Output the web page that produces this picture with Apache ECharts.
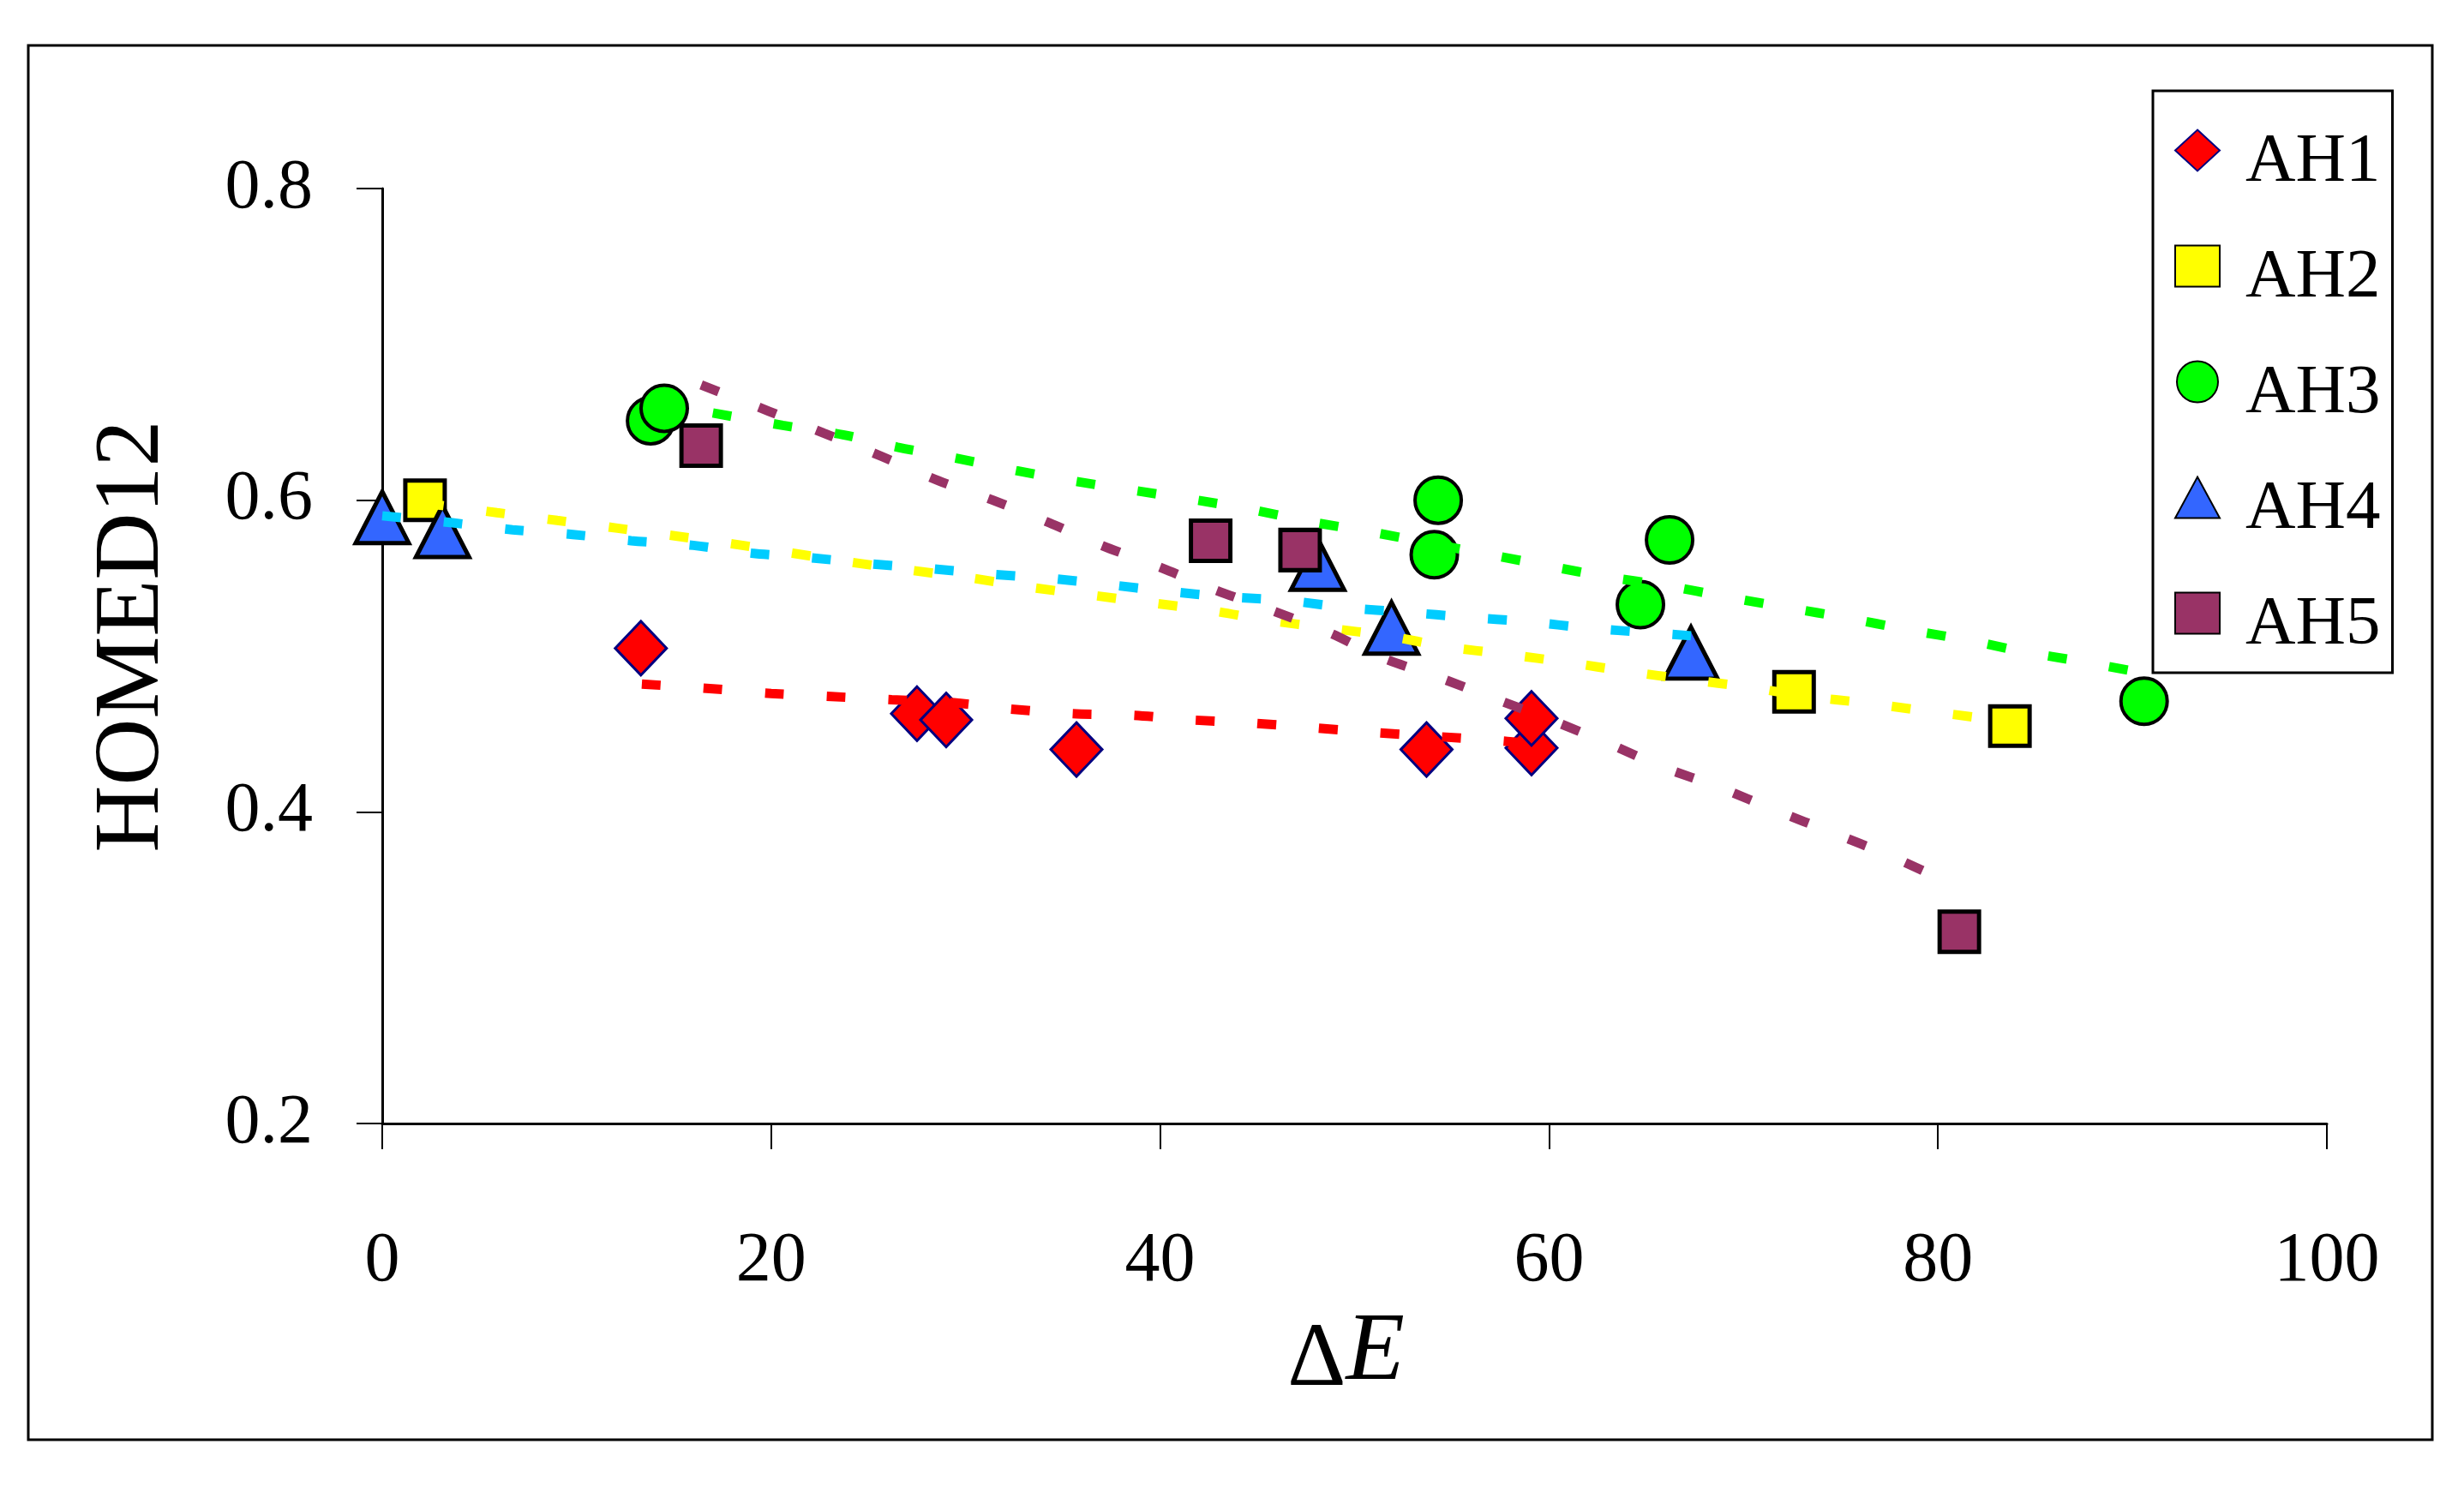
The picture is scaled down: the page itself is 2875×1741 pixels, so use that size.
<!DOCTYPE html>
<html>
<head>
<meta charset="utf-8">
<script src="https://cdn.jsdelivr.net/npm/echarts@6/dist/echarts.min.js"></script>
<style>
  html, body { margin: 0; padding: 0; background: #fff; }
  #chart { width: 2875px; height: 1741px; }
</style>
</head>
<body>
<div id="chart"></div>
<script>
// measured points
const ah1X = [13.3, 27.5, 29.0, 35.7, 53.7, 59.1, 59.1];
const ah1Y = [0.505, 0.463, 0.459, 0.440, 0.440, 0.441, 0.460];
const ah2X = [2.2, 72.6, 83.7];
const ah2Y = [0.600, 0.477, 0.455];
const ah3X = [13.8, 14.5, 54.3, 54.1, 66.2, 64.7, 90.6];
const ah3Y = [0.651, 0.659, 0.600, 0.565, 0.5745, 0.533, 0.471];
const ah4X = [0.0, 3.1, 48.1, 51.9, 67.3];
const ah4Y = [0.589, 0.580, 0.559, 0.518, 0.502];
const ah5X = [16.4, 42.6, 47.2, 81.1];
const ah5Y = [0.635, 0.574, 0.568, 0.323];

// trend lines
const trend1X = [13.35, 17.0, 20.0, 23.1, 26.2, 29.4, 32.3, 35.5, 38.6, 41.6, 44.7, 47.8, 50.9, 54.0, 57.0, 59.0];
const trend1Y = [0.482, 0.479, 0.476, 0.474, 0.472, 0.470, 0.466, 0.463, 0.462, 0.459, 0.457, 0.454, 0.451, 0.4485, 0.446, 0.444];
const trend2X = [2.2, 5.9, 9.0, 12.1, 15.1, 18.0, 21.1, 24.2, 27.2, 30.3, 33.4, 36.5, 39.6, 42.7, 45.5, 48.6, 51.7, 54.7, 57.9, 60.9, 64.1, 67.1, 70.3, 73.3, 76.2, 79.2, 82.3, 83.7];
const trend2Y = [0.598, 0.592, 0.587, 0.582, 0.577, 0.572, 0.566, 0.560, 0.555, 0.550, 0.544, 0.539, 0.534, 0.529, 0.523, 0.518, 0.513, 0.506, 0.501, 0.496, 0.490, 0.485, 0.480, 0.474, 0.470, 0.465, 0.460, 0.457];
const trend3X = [17.0, 20.6, 23.7, 26.5, 29.5, 32.6, 35.7, 38.8, 41.9, 44.7, 47.8, 50.9, 54.0, 57.0, 60.1, 62.9, 66.1, 69.1, 72.3, 75.3, 78.4, 81.6, 84.3, 87.4, 90.6];
const trend3Y = [0.656, 0.648, 0.642, 0.634, 0.627, 0.619, 0.612, 0.606, 0.600, 0.594, 0.586, 0.5795, 0.572, 0.565, 0.5575, 0.551, 0.545, 0.538, 0.531, 0.5245, 0.517, 0.510, 0.503, 0.4964, 0.489];
const trend4X = [0.0, 3.6, 6.7, 9.8, 12.8, 16.0, 19.0, 22.1, 25.2, 28.3, 31.3, 34.2, 37.2, 40.4, 43.4, 46.6, 49.6, 52.7, 55.7, 58.9, 62.0, 65.1, 67.3];
const trend4Y = [0.590, 0.5855, 0.581, 0.578, 0.574, 0.571, 0.566, 0.563, 0.559, 0.556, 0.5525, 0.550, 0.546, 0.5415, 0.538, 0.5355, 0.531, 0.528, 0.525, 0.522, 0.518, 0.515, 0.513];
const trend5X = [16.4, 19.9, 22.7, 25.7, 28.6, 31.4, 34.3, 37.0, 40.1, 42.8, 45.8, 48.7, 51.4, 54.5, 57.4, 60.1, 63.1, 65.8, 68.9, 71.7, 74.5, 77.5, 80.2, 81.0];
const trend5Y = [0.674, 0.657, 0.643, 0.628, 0.6125, 0.600, 0.5855, 0.571, 0.5564, 0.5426, 0.529, 0.515, 0.499, 0.4855, 0.4717, 0.459, 0.4436, 0.429, 0.415, 0.4007, 0.387, 0.372, 0.357, 0.354];

const seriesNames = ['AH1', 'AH2', 'AH3', 'AH4', 'AH5'];
const xTicks = [0, 20, 40, 60, 80, 100];
const yTicks = [0.2, 0.4, 0.6, 0.8];

const serif = "'Palatino Linotype', 'Book Antiqua', Palatino, 'Liberation Serif', serif";

function pairs(xs, ys) {
  return xs.map((x, i) => [x, ys[i]]);
}

function trend(xs, ys, color) {
  return {
    type: 'line',
    data: pairs(xs, ys),
    showSymbol: false,
    symbol: 'none',
    smooth: 0.3,
    silent: true,
    z: 5,
    lineStyle: { color: color, width: 11, type: [22, 50], cap: 'butt' }
  };
}

let chart = echarts.init(document.getElementById('chart'));
const option = {
  animation: false,
  backgroundColor: '#fff',
  graphic: [{
    type: 'rect',
    shape: { x: 33, y: 53, width: 2805, height: 1627 },
    style: { fill: null, stroke: '#000', lineWidth: 3 },
    silent: true
  }],
  grid: { left: 446, right: 160, top: 220, bottom: 430 },
  legend: {
    data: seriesNames,
    orient: 'vertical',
    left: 2512,
    top: 106,
    padding: [15, 14, 15, 25],
    itemGap: 26,
    itemWidth: 52,
    itemHeight: 48,
    borderColor: '#000',
    borderWidth: 3,
    formatter: name => '{t|' + name + '}',
    textStyle: {
      fontFamily: serif,
      fontSize: 81,
      color: '#000',
      rich: {
        t: { fontFamily: serif, fontSize: 81, color: '#000', lineHeight: 80, padding: [28, 0, 0, 25] }
      }
    }
  },
  xAxis: {
    type: 'value',
    min: 0,
    max: 100,
    interval: 20,
    name: '{d|Δ}{e|E}',
    nameLocation: 'middle',
    nameGap: 208,
    nameTextStyle: {
      padding: [0, 20, 0, 0],
      rich: {
        d: { fontFamily: serif, fontSize: 106, color: '#000', padding: [16, 0, 0, 0] },
        e: { fontFamily: serif, fontSize: 112, fontStyle: 'italic', color: '#000' }
      }
    },
    axisLine: { lineStyle: { color: '#000', width: 3 } },
    axisTick: { show: true, inside: false, length: 30, lineStyle: { color: '#000', width: 2 } },
    axisLabel: { margin: 120, fontFamily: serif, fontSize: 82, color: '#000' },
    splitLine: { show: false }
  },
  yAxis: {
    type: 'value',
    min: 0.2,
    max: 0.8,
    interval: 0.2,
    name: 'HOMED12',
    nameLocation: 'middle',
    nameGap: 236,
    nameTextStyle: { fontFamily: serif, fontSize: 108, color: '#000', padding: [0, 0, 0, 46] },
    axisLine: { show: true, lineStyle: { color: '#000', width: 3 } },
    axisTick: { show: true, inside: false, length: 30, lineStyle: { color: '#000', width: 2 } },
    axisLabel: {
      margin: 81, fontFamily: serif, fontSize: 82, color: '#000',
      formatter: v => yTicks.some(t => Math.abs(t - v) < 1e-6) ? v.toFixed(1) : ''
    },
    splitLine: { show: false }
  },
  series: [
    {
      name: 'AH1', type: 'scatter', data: pairs(ah1X, ah1Y), z: 2,
      symbol: 'diamond', symbolSize: [60, 63],
      itemStyle: { color: '#ff0000', borderColor: '#000080', borderWidth: 3, opacity: 1 }
    },
    {
      name: 'AH2', type: 'scatter', data: pairs(ah2X, ah2Y), z: 2,
      symbol: 'rect', symbolSize: [46, 46],
      itemStyle: { color: '#ffff00', borderColor: '#000', borderWidth: 5, opacity: 1 }
    },
    {
      name: 'AH3', type: 'scatter', data: pairs(ah3X, ah3Y), z: 2,
      symbol: 'circle', symbolSize: 54,
      itemStyle: { color: '#00ff00', borderColor: '#000', borderWidth: 4, opacity: 1 }
    },
    {
      name: 'AH4', type: 'scatter', data: pairs(ah4X, ah4Y), z: 2,
      symbol: 'triangle', symbolSize: [62, 60],
      itemStyle: { color: '#3366ff', borderColor: '#000', borderWidth: 5, opacity: 1 }
    },
    {
      name: 'AH5', type: 'scatter', data: pairs(ah5X, ah5Y), z: 2,
      symbol: 'rect', symbolSize: [46, 47],
      itemStyle: { color: '#993366', borderColor: '#000', borderWidth: 5, opacity: 1 }
    },
    trend(trend1X, trend1Y, '#ff0000'),
    trend(trend2X, trend2Y, '#ffff00'),
    trend(trend3X, trend3Y, '#00ff00'),
    trend(trend4X, trend4Y, '#00ccff'),
    trend(trend5X, trend5Y, '#993366')
  ]
};

chart.setOption(option);
window.addEventListener('resize', () => {
  chart.resize();
});
</script>
</body>
</html>
